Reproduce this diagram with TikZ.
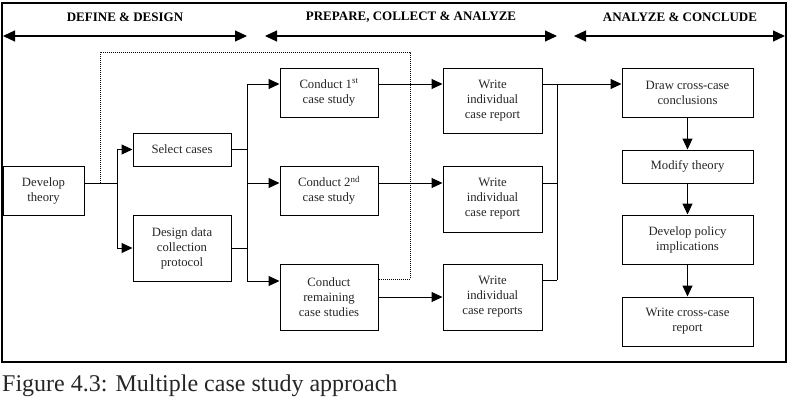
\documentclass[tikz,border=0pt]{standalone}
\usepackage{fontspec}
\setmainfont{Liberation Serif}
\usetikzlibrary{arrows.meta}
\begin{document}
\begin{tikzpicture}[x=1pt,y=-1pt,
 box/.style={draw, line width=1pt, align=center, inner sep=1pt, font=\fontsize{12.7}{15}\selectfont, text=black!85},
 arr/.style={line width=1pt, -{Triangle[length=11pt,width=10pt]}},
 ln/.style={line width=1pt},
 dots/.style={line width=0.8pt, dash pattern=on 1pt off 1pt},
 hdr/.style={font=\fontsize{13}{15}\selectfont\bfseries},
 dbl/.style={line width=1.2pt, {Triangle[length=12pt,width=11pt]}-{Triangle[length=12pt,width=11pt]}}]

\useasboundingbox (0,0) rectangle (799,402);
\draw[line width=1.2pt] (2,3) rectangle (786,362);

% headers
\node[hdr] (h1) at (125,17) {DEFINE \& DESIGN};
\node[hdr] (h2) at (411,17) {PREPARE, COLLECT \& ANALYZE};
\node[hdr] (h3) at (680,17) {ANALYZE \& CONCLUDE};
\coordinate (a1l) at (3,36);   \coordinate (a1r) at (247,36);
\coordinate (a2l) at (265,36); \coordinate (a2r) at (557,36);
\coordinate (a3l) at (574,36); \coordinate (a3r) at (785,36);
\draw[dbl] (a1l) -- (a1r);
\draw[dbl] (a2l) -- (a2r);
\draw[dbl] (a3l) -- (a3r);

% boxes
\node[box, minimum width=81, minimum height=49] (dt) at (43.5,190.5) {Develop\\theory};
\node[box, minimum width=98, minimum height=33] (sc) at (182,149.5) {Select cases};
\node[box, minimum width=98, minimum height=66] (dd) at (182,248) {Design data\\collection\\protocol};
\node[box, minimum width=98, minimum height=49] (c1) at (329,92.5) {Conduct 1\textsuperscript{st}\\case study};
\node[box, minimum width=98, minimum height=49] (c2) at (329,190.5) {Conduct 2\textsuperscript{nd}\\case study};
\node[box, minimum width=98, minimum height=66] (c3) at (329,297) {Conduct\\remaining\\case studies};
\node[box, minimum width=99, minimum height=65] (w1) at (492.5,100.5) {Write\\individual\\case report};
\node[box, minimum width=99, minimum height=66] (w2) at (492.5,199) {Write\\individual\\case report};
\node[box, minimum width=99, minimum height=66] (w3) at (492.5,297) {Write\\individual\\case reports};
\node[box, minimum width=131, minimum height=49] (dc) at (687.5,92.5) {Draw cross-case\\conclusions};
\node[box, minimum width=131, minimum height=33] (mt) at (687.5,166.5) {Modify theory};
\node[box, minimum width=131, minimum height=49] (dp) at (687.5,239.5) {Develop policy\\implications};
\node[box, minimum width=131, minimum height=49] (wc) at (687.5,321.5) {Write cross-case\\report};

% connectors
\coordinate (j1) at (117,183);
\coordinate (d0) at (100,183);
\draw[ln] (dt.east |- j1) -- (j1);
\draw[arr] (j1) |- (sc.west);
\draw[arr] (j1) |- (dd.west);

\coordinate (j2t) at (247,84);
\coordinate (j2m) at (247,183);
\coordinate (j2b) at (247,281);
\draw[ln] (sc.east) -- (sc.east -| j2t);
\draw[ln] (dd.east) -- (dd.east -| j2t);
\draw[ln] (j2t) -- (j2b);
\draw[arr] (j2t) -- (j2t -| c1.west);
\draw[arr] (j2m) -- (j2m -| c2.west);
\draw[arr] (j2b) -- (j2b -| c3.west);

\draw[arr] (c1.east |- j2t) -- (w1.west |- j2t);
\draw[arr] (c2.east |- j2m) -- (w2.west |- j2m);
\draw[arr] (c3.east) -- (w3.west);

\coordinate (j3t) at (557,84);
\coordinate (j3m) at (557,183);
\coordinate (j3b) at (557,280);
\draw[ln] (w1.east |- j3t) -- (j3t);
\draw[ln] (w2.east |- j3m) -- (j3m);
\draw[ln] (w3.east |- j3b) -- (j3b);
\draw[ln] (j3t) -- (j3b);
\draw[arr] (j3t) -- (dc.west |- j3t);

\draw[arr] (dc.south) -- (mt.north);
\draw[arr] (mt.south) -- (dp.north);
\draw[arr] (dp.south) -- (wc.north);

% dotted feedback
\coordinate (d1) at (100,52);
\coordinate (d2) at (410,52);
\coordinate (d3) at (410,279);
\draw[dots] (d0) -- (d1) -- (d2) -- (d3) -- (c3.east |- d3);

% caption
\node[anchor=base west, font=\fontsize{24}{28}\selectfont, inner sep=0pt, text=black!85] (cap) at (2,391) {Figure 4.3: Multiple case study approach};
\end{tikzpicture}
\end{document}
